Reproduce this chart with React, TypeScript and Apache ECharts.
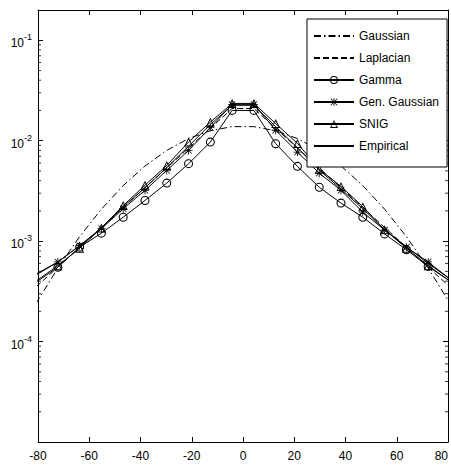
import React, { useEffect, useRef } from "react";
import * as echarts from "echarts";

const X_VALUES = [-80.75, -72.25, -63.75, -55.25, -46.75, -38.25, -29.75, -21.25, -12.75, -4.25, 4.25, 12.75, 21.25, 29.75, 38.25, 46.75, 55.25, 63.75, 72.25, 80.75];

const GAUSSIAN = [0.00024, 0.00054, 0.00111, 0.00208, 0.00357, 0.0056, 0.008, 0.0105, 0.01256, 0.0138, 0.0138, 0.01256, 0.0105, 0.008, 0.0056, 0.00357, 0.00208, 0.00111, 0.00054, 0.00024];
const LAPLACIAN = [0.00035, 0.00055, 0.00087, 0.00137, 0.00216, 0.0034, 0.00535, 0.00843, 0.0133, 0.0209, 0.0209, 0.0133, 0.00843, 0.00535, 0.0034, 0.00216, 0.00137, 0.00087, 0.00055, 0.00035];
const GAMMA = [0.00039, 0.00055, 0.00087, 0.0012, 0.00173, 0.00254, 0.00378, 0.0059, 0.00968, 0.02, 0.02, 0.00933, 0.00555, 0.00344, 0.00239, 0.00173, 0.00118, 0.00082, 0.00056, 0.0004];
const GEN_GAUSSIAN = [0.00046, 0.00062, 0.0009, 0.00133, 0.0021, 0.0032, 0.00506, 0.008, 0.0135, 0.023, 0.023, 0.0127, 0.0077, 0.00475, 0.0032, 0.00194, 0.00129, 0.00087, 0.00062, 0.00042];
const SNIG = [0.0004, 0.00057, 0.00085, 0.00135, 0.00226, 0.0036, 0.00567, 0.0097, 0.0153, 0.0235, 0.0235, 0.0148, 0.0094, 0.0052, 0.0035, 0.0022, 0.0013, 0.00085, 0.00057, 0.0004];
const EMPIRICAL = [0.00047, 0.00062, 0.0009, 0.00135, 0.0022, 0.0034, 0.0054, 0.0088, 0.0145, 0.0225, 0.0225, 0.0138, 0.0085, 0.0051, 0.0033, 0.0021, 0.0013, 0.00088, 0.0006, 0.00042];

const LEGEND_NAMES = ["Gaussian", "Laplacian", "Gamma", "Gen. Gaussian", "SNIG", "Empirical"];
const NO_MARKER = ["Gaussian", "Laplacian", "Empirical"];
const X_TICKS = [-80, -60, -40, -20, 0, 20, 40, 60, 80];
const Y_MIN = 1e-5;
const Y_MAX = 0.2;
const DECADES = [-5, -4, -3, -2, -1];
const MINOR_MULTIPLIERS = [2, 3, 4, 5, 6, 7, 8, 9];

const FONT = "'Liberation Sans', Arial, sans-serif";

const CIRCLE_PATH = "path://M5 0A5 5 0 1 1 5 10A5 5 0 1 1 5 0ZM5 1.2A3.8 3.8 0 1 0 5 8.8A3.8 3.8 0 1 0 5 1.2Z";
const TRIANGLE_PATH = "path://M5 0L10 9L0 9ZM5 2.06L1.7 8L8.3 8Z";
const STAR_PATH = "path://M4.5 0H5.5V10H4.5ZM0 4.5H10V5.5H0ZM0.7 1.4L1.4 0.7L9.3 8.6L8.6 9.3ZM8.6 0.7L9.3 1.4L1.4 9.3L0.7 8.6Z";

function pairs(ys: number[]) {
  return X_VALUES.map((x, i) => [x, ys[i]]);
}

export default function App() {
  const ref = useRef<HTMLDivElement>(null);
  useEffect(() => {
    if (!ref.current) return;
    const chart = echarts.init(ref.current, undefined, { renderer: "svg" });
    const minorVals: number[] = [];
    DECADES.forEach((d) => MINOR_MULTIPLIERS.forEach((m) => {
      const v = m * Math.pow(10, d);
      if (v > Y_MIN && v < Y_MAX) minorVals.push(v);
    }));
    const baseLine = (name: string, ys: number[], extra: any) => ({
      name,
      type: "line",
      data: pairs(ys),
      symbol: "none",
      lineStyle: { color: "#000", width: 1, type: "solid" },
      itemStyle: { color: "#000" },
      clip: true,
      z: 3,
      ...extra,
    });
    const markerLine = (name: string, ys: number[], symbol: string, size: number) =>
      baseLine(name, ys, { symbol, symbolSize: size, showSymbol: true, itemStyle: { color: "#000", borderWidth: 0 } });

    const axisLine = { show: true, onZero: false, lineStyle: { color: "#000", width: 1 } };
    const tick = { show: true, inside: true, length: 5, lineStyle: { color: "#000", width: 1 } };

    chart.setOption({
      animation: false,
      backgroundColor: "#fff",
      textStyle: { fontFamily: FONT },
      grid: { left: 38, top: 10, width: 410, height: 432, containLabel: false, outerBoundsMode: "none" },
      legend: {
        orient: "vertical",
        left: 307,
        top: 19,
        itemWidth: 40,
        itemHeight: 10,
        itemGap: 10,
        padding: [11, 8, 15, 6],
        borderColor: "#000",
        borderWidth: 1,
        borderRadius: 0,
        backgroundColor: "#fff",
        selectedMode: false,
        textStyle: { fontSize: 12, color: "#000", fontFamily: FONT },
        data: LEGEND_NAMES.map((n) =>
          NO_MARKER.includes(n)
            ? { name: n, itemStyle: { color: "rgba(0,0,0,0)", borderWidth: 0, opacity: 0 } }
            : { name: n }
        ),
      },
      xAxis: [
        {
          type: "value",
          min: -80,
          max: 80,
          interval: 20,
          position: "bottom",
          axisLine,
          axisTick: tick,
          splitLine: { show: false },
          axisLabel: {
            color: "#000",
            fontSize: 12,
            fontFamily: FONT,
            margin: 8,
            hideOverlap: false,
            alignMaxLabel: "right",
            formatter: (v: number) => (X_TICKS.includes(v) ? String(v) : ""),
          },
        },
        {
          type: "value",
          min: -80,
          max: 80,
          interval: 20,
          position: "top",
          axisLine,
          axisTick: tick,
          splitLine: { show: false },
          axisLabel: { show: false },
        },
      ],
      yAxis: [
        {
          type: "log",
          logBase: 10,
          min: Y_MIN,
          max: Y_MAX,
          position: "left",
          axisLine,
          axisTick: tick,
          splitLine: { show: false },
          minorTick: { show: false },
          axisLabel: {
            color: "#000",
            margin: 6,
            fontFamily: FONT,
            formatter: (v: number) => {
              const e = Math.log10(v);
              const r = Math.round(e);
              if (Math.abs(e - r) > 1e-6 || r <= -5 || r > -1) return "";
              return "{b|10}{s|" + r + "}";
            },
            rich: {
              b: { fontSize: 12, color: "#000", fontFamily: FONT, lineHeight: 14, padding: [6, 0, 0, 0] },
              s: { fontSize: 9, color: "#000", fontFamily: FONT, lineHeight: 10, padding: [0, 0, 6, 0] },
            },
          },
        },
        {
          type: "log",
          logBase: 10,
          min: Y_MIN,
          max: Y_MAX,
          position: "right",
          axisLine,
          axisTick: tick,
          splitLine: { show: false },
          axisLabel: { show: false },
        },
      ],
      series: [
        baseLine("Gaussian", GAUSSIAN, { lineStyle: { color: "#000", width: 1, type: [7, 3, 1.5, 3] } }),
        baseLine("Laplacian", LAPLACIAN, { lineStyle: { color: "#000", width: 1, type: [6, 3] } }),
        markerLine("Gamma", GAMMA, CIRCLE_PATH, 9),
        markerLine("Gen. Gaussian", GEN_GAUSSIAN, STAR_PATH, 8),
        markerLine("SNIG", SNIG, TRIANGLE_PATH, 9),
        baseLine("Empirical", EMPIRICAL, {}),
        {
          name: "minorLeft",
          type: "scatter",
          silent: true,
          clip: false,
          symbol: "rect",
          symbolSize: [3, 1],
          symbolOffset: [1.5, 0],
          itemStyle: { color: "#000" },
          data: minorVals.map((v) => [-80, v]),
          z: 1,
        },
        {
          name: "minorRight",
          type: "scatter",
          silent: true,
          clip: false,
          symbol: "rect",
          symbolSize: [3, 1],
          symbolOffset: [-1.5, 0],
          itemStyle: { color: "#000" },
          data: minorVals.map((v) => [80, v]),
          z: 1,
        },
      ],
    });
    return () => chart.dispose();
  }, []);
  return <div ref={ref} style={{ position: "fixed", left: 0, top: 0, width: 451, height: 468 }} />;
}
